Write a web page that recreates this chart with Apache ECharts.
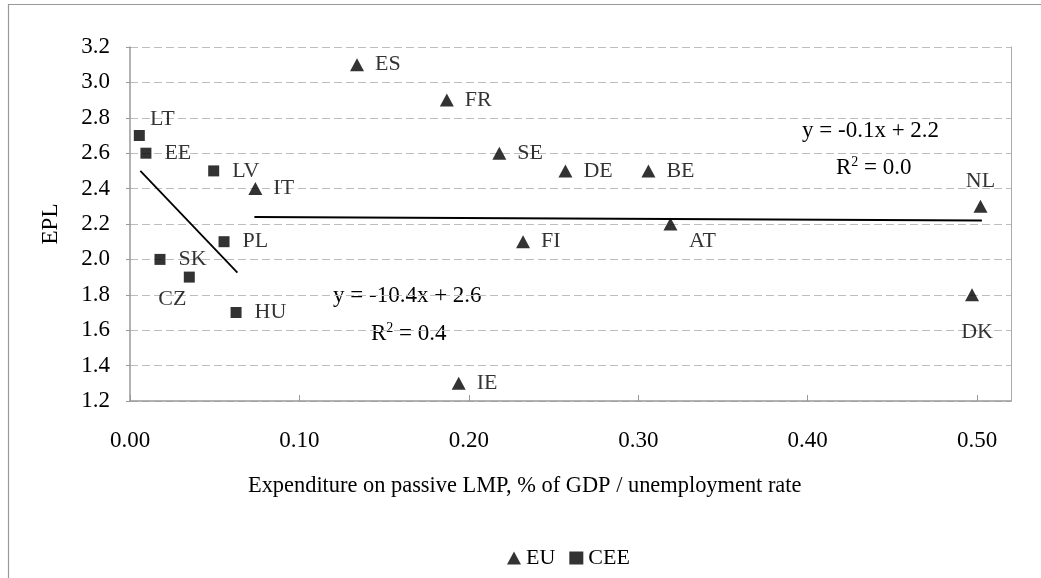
<!DOCTYPE html>
<html>
<head>
<meta charset="utf-8">
<script src="https://cdn.jsdelivr.net/npm/echarts@6/dist/echarts.min.js"></script>
<style>
html,body{margin:0;padding:0;background:#fff;}
#c{width:1041px;height:578px;}
</style>
</head>
<body>
<div id="c"></div>
<script>
// ---- data ----
const euNames = ['ES','FR','SE','DE','BE','IT','AT','FI','IE','NL','DK'];
const euX     = [0.134,0.187,0.218,0.257,0.306,0.074,0.319,0.232,0.194,0.502,0.497];
const euY     = [3.1,2.9,2.6,2.5,2.5,2.4,2.2,2.1,1.3,2.3,1.8];

const ceeNames = ['LT','EE','LV','PL','SK','CZ','HU'];
const ceeX     = [0.0055,0.0094,0.0494,0.0555,0.0177,0.035,0.0626];
const ceeY     = [2.7,2.6,2.5,2.1,2.0,1.9,1.7];

// trend line end points
const euTrendX  = [0.0734, 0.5028];
const euTrendY  = [2.24, 2.22];
const ceeTrendX = [0.0061, 0.0634];
const ceeTrendY = [2.50, 1.925];

const xTicks = [0, 0.1, 0.2, 0.3, 0.4, 0.5];
const yTicks = [1.2, 1.4, 1.6, 1.8, 2.0, 2.2, 2.4, 2.6, 2.8, 3.0, 3.2];

const legendNames = ['EU', 'CEE'];
const xTitle = 'Expenditure on passive LMP, % of GDP / unemployment rate';
const yTitle = 'EPL';

// ---- styling ----
const FONT = 'Liberation Serif';
const FS_TICK = 23;
const FS_LBL = 22;
const FS_EQ = 23;

// special label placements (offset from marker center)
const labelOffsets = {
  LT: [23, -16], CZ: [-17, 22], AT: [32, 17], NL: [0, -25], DK: [5, 37]
};

function buildPoints(names, xs, ys, dist) {
  return names.map((n, i) => {
    const item = { name: n, value: [xs[i], ys[i]] };
    if (labelOffsets[n]) {
      item.label = { position: 'inside', offset: labelOffsets[n] };
    } else {
      item.label = { position: 'right', distance: dist };
    }
    return item;
  });
}

const chart = echarts.init(document.getElementById('c'), null, { renderer: 'canvas' });

const labelBase = {
  show: true,
  formatter: p => p.name,
  color: '#000',
  fontFamily: FONT,
  fontSize: FS_LBL
};

const supRich = { s: { fontSize: 14, fontFamily: FONT, verticalAlign: 'top', padding: [0, 0, 12, 0] } };

const option = {
  backgroundColor: '#fff',
  animation: false,
  textStyle: { fontFamily: FONT, color: '#000' },
  grid: { left: 130, right: 30, top: 47, bottom: 177, containLabel: false },
  xAxis: {
    type: 'value',
    min: xTicks[0],
    max: 0.52,
    interval: 0.1,
    axisLine: { show: true, lineStyle: { color: '#999', width: 1.5 } },
    axisTick: { show: true, inside: true, length: 6, lineStyle: { color: '#999' } },
    splitLine: { show: false },
    axisLabel: {
      margin: 28,
      color: '#000', fontFamily: FONT, fontSize: FS_TICK,
      showMaxLabel: false,
      formatter: v => (xTicks.some(t => Math.abs(t - v) < 1e-9) ? v.toFixed(2) : '')
    }
  },
  yAxis: [{
    type: 'value',
    min: yTicks[0],
    max: yTicks[yTicks.length - 1],
    interval: 0.2,
    name: yTitle,
    nameLocation: 'middle',
    nameGap: 68,
    nameTextStyle: { fontFamily: FONT, fontSize: FS_TICK, color: '#000' },
    axisLine: { show: true, lineStyle: { color: '#999', width: 1.5 } },
    axisTick: { show: true, length: 4, lineStyle: { color: '#999' } },
    splitLine: { show: true, lineStyle: { color: '#bdbdbd', width: 1, type: [8, 4] } },
    axisLabel: {
      margin: 20,
      color: '#000', fontFamily: FONT, fontSize: FS_TICK,
      formatter: v => v.toFixed(1)
    }
  }, {
    type: 'value',
    position: 'right',
    min: yTicks[0],
    max: yTicks[yTicks.length - 1],
    interval: 0.2,
    axisLine: { show: true, lineStyle: { color: '#aaa', width: 1 } },
    axisTick: { show: false },
    axisLabel: { show: false },
    splitLine: { show: false }
  }],
  legend: {
    data: legendNames,
    left: 502,
    top: 542,
    itemWidth: 14,
    itemHeight: 13,
    itemGap: 14,
    textStyle: { fontFamily: FONT, fontSize: FS_LBL, color: '#000' }
  },
  graphic: [
    { type: 'rect', shape: { x: 8.5, y: 4.5, width: 1100, height: 700 },
      style: { fill: 'none', stroke: '#999', lineWidth: 1.2 }, silent: true, z: -10 },
    { type: 'text', left: 248, top: 475,
      style: { text: xTitle, font: '22.4px "' + FONT + '"', fill: '#000' } },
    { type: 'text', left: 802, top: 119,
      style: { text: 'y = -0.1x + 2.2', font: FS_EQ + 'px "' + FONT + '"', fill: '#000' } },
    { type: 'text', left: 836, top: 155,
      style: { rich: supRich, text: 'R{s|2} = 0.0', font: FS_EQ + 'px "' + FONT + '"', fill: '#000' } },
    { type: 'text', left: 333, top: 284,
      style: { text: 'y = -10.4x + 2.6', font: FS_EQ + 'px "' + FONT + '"', fill: '#000' } },
    { type: 'text', left: 371, top: 321,
      style: { rich: supRich, text: 'R{s|2} = 0.4', font: FS_EQ + 'px "' + FONT + '"', fill: '#000' } }
  ],
  series: [
    {
      name: 'EU',
      type: 'scatter',
      symbol: 'triangle',
      symbolSize: [14, 13],
      itemStyle: { color: '#000' },
      label: labelBase,
      data: buildPoints(euNames, euX, euY, 11),
      z: 5
    },
    {
      name: 'CEE',
      type: 'scatter',
      symbol: 'rect',
      symbolSize: 11,
      itemStyle: { color: '#000' },
      label: labelBase,
      data: buildPoints(ceeNames, ceeX, ceeY, 13),
      z: 5
    },
    {
      name: 'EU trend',
      type: 'line',
      symbol: 'none',
      lineStyle: { color: '#000', width: 2 },
      data: euTrendX.map((x, i) => [x, euTrendY[i]]),
      z: 3
    },
    {
      name: 'CEE trend',
      type: 'line',
      symbol: 'none',
      lineStyle: { color: '#000', width: 1.8 },
      data: ceeTrendX.map((x, i) => [x, ceeTrendY[i]]),
      z: 3
    }
  ]
};

chart.setOption(option);
</script>
</body>
</html>
